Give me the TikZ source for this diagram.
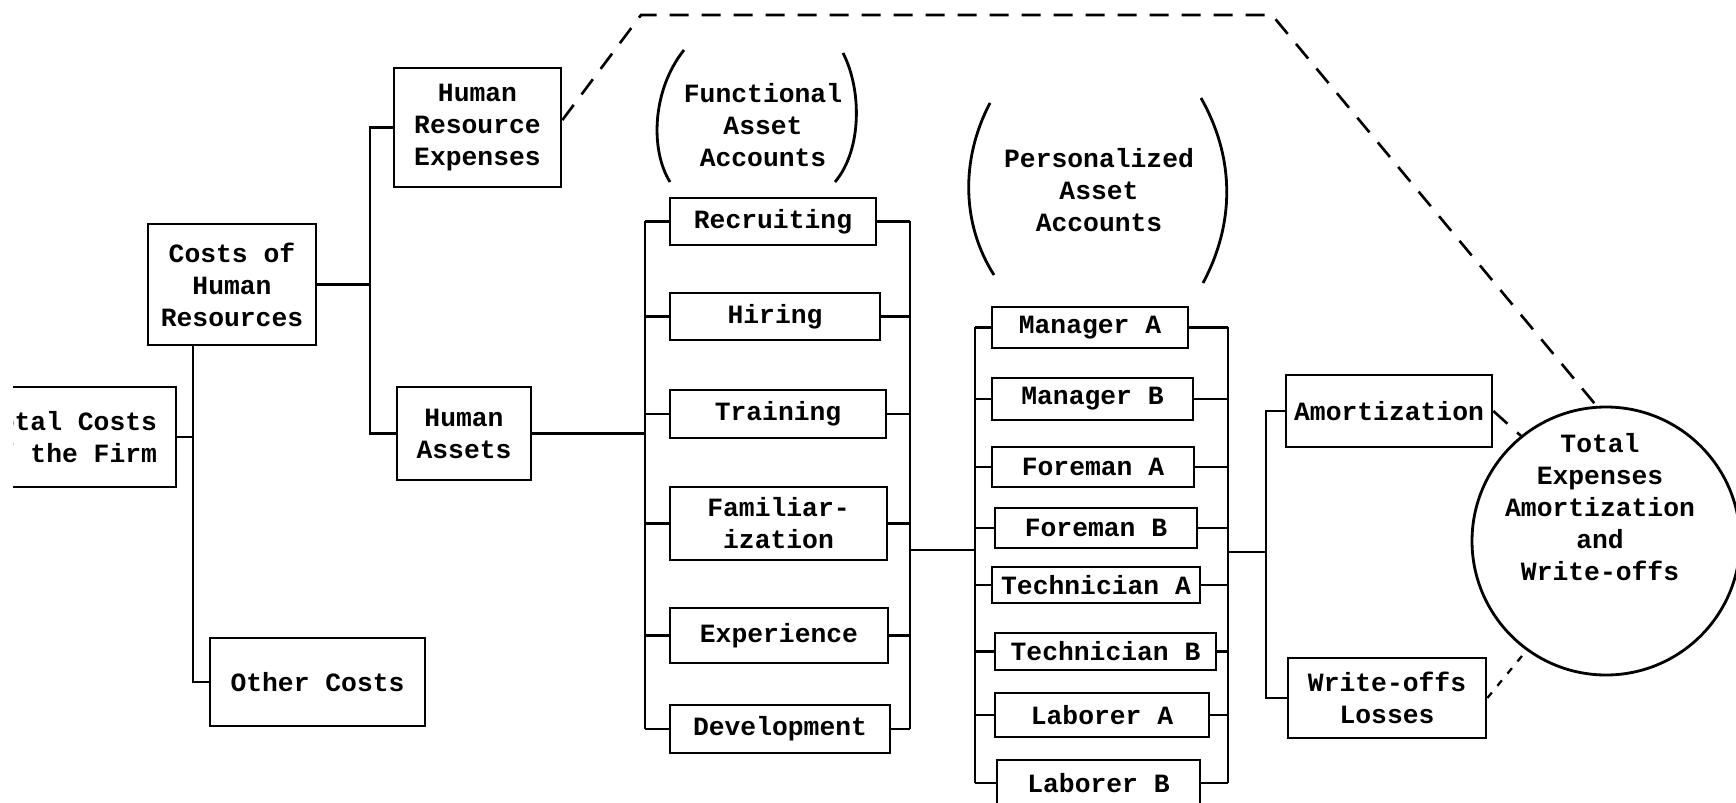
\documentclass[tikz,border=0pt]{standalone}
\usepackage{fontspec}
\setmainfont{Liberation Mono}

\begin{document}
\begin{tikzpicture}[x=0.02cm, y=-0.02cm,
    every node/.style={font=\fontsize{15pt}{18.2pt}\selectfont\bfseries, inner sep=0pt, align=center},
    acct/.style 2 args={draw, line width=1.5pt, minimum width=#1*0.02cm, minimum height=#2*0.02cm},
    link/.style={line width=1.2pt},
    paren/.style={line width=1.6pt},
    flowline/.style={line width=1.5pt, dash pattern=on 0.38cm off 0.26cm},
    lossline/.style={line width=1.3pt, dash pattern=on 4pt off 5pt}]
    \useasboundingbox (0,0) rectangle (1736,803);
    \clip (13,0) rectangle (1736,803);

    \node[acct={212}{100}] (total) at (70,437) {Total Costs\\of the Firm};
    \node[acct={168}{121}] (costs) at (232,284.5) {Costs of\\Human\\Resources};
    \node[acct={167}{119}] (hrexp) at (477.5,127.5) {Human\\Resource\\Expenses};
    \node[acct={134}{93}] (assets) at (464,433.5) {Human\\Assets};
    \node[acct={215}{88}] (other) at (317.5,682) {Other Costs};

    \node (fhead) at (763,125) {Functional\\Asset\\Accounts};
    \node (phead) at (1099,190) {Personalized\\Asset\\Accounts};

    \foreach [count=\i] \txt/\x/\y/\w/\h in {Recruiting/773/221.5/206/47, Hiring/775/316.5/210/47,
        Training/778/414/216/48, {Familiar-\\ization}/778.5/523.5/217/73,
        Experience/779/635.5/218/55, Development/780/729/220/48} {
      \node[acct={\w}{\h}] (f\i) at (\x,\y) {\txt};
    }
    \foreach [count=\i] \txt/\x/\y/\w/\h in {Manager A/1090/327.5/196/41, Manager B/1092.5/399/201/42,
        Foreman A/1093/467/202/40, Foreman B/1096/528/202/40,
        Technician A/1096/585/208/36, Technician B/1105.5/651.5/221/37,
        Laborer A/1102/715/214/44, Laborer B/1098.5/783/203/46} {
      \node[acct={\w}{\h}] (p\i) at (\x,\y) {\txt};
    }

    \node[acct={206}{72}] (amort) at (1389,411) {Amortization};
    \node[acct={198}{80}] (wroff) at (1387,698) {Write-offs\\Losses};
    \node[draw, circle, line width=1.6pt, minimum size=268*0.02cm] (tot) at (1606,541) {};
    \node (tottext) at (1600,507) {Total\\Expenses\\Amortization\\and\\Write-offs};

    \coordinate (cbar) at (193,0);
    \coordinate (hbar) at (370,279);
    \coordinate (fbarl) at (645,0);
    \coordinate (fbarr) at (910,550);
    \coordinate (pbarl) at (975,550);
    \coordinate (pbarr) at (1228,552);
    \coordinate (abar) at (1266,552);
    \coordinate (d1) at (641,15);
    \coordinate (d2) at (1272,15);

    \draw[link] (total.east) -- (total.east -| cbar);
    \draw[link] (costs.south -| cbar) |- (other.west);
    \draw[link] (costs.east) -- (costs.east -| hbar);
    \draw[link] (hrexp.west) -| (hbar) |- (assets.west);
    \draw[link] (assets.east) -- (assets.east -| fbarl);

    \draw[link] (f1.west -| fbarl) -- (f6.west -| fbarl);
    \draw[link] (f1.west) -- (f1.west -| fbarl);
    \draw[link] (f2.west) -- (f2.west -| fbarl);
    \draw[link] (f3.west) -- (f3.west -| fbarl);
    \draw[link] (f4.west) -- (f4.west -| fbarl);
    \draw[link] (f5.west) -- (f5.west -| fbarl);
    \draw[link] (f6.west) -- (f6.west -| fbarl);
    \draw[link] (f1.east) -- (f1.east -| fbarr);
    \draw[link] (f2.east) -- (f2.east -| fbarr);
    \draw[link] (f3.east) -- (f3.east -| fbarr);
    \draw[link] (f4.east) -- (f4.east -| fbarr);
    \draw[link] (f5.east) -- (f5.east -| fbarr);
    \draw[link] (f6.east) -- (f6.east -| fbarr);
    \draw[link] (f1.east -| fbarr) -- (f6.east -| fbarr);

    \draw[link] (fbarr) -- (pbarl);

    \draw[link] (p1.west -| pbarl) -- (p8.west -| pbarl);
    \draw[link] (p1.west) -- (p1.west -| pbarl);
    \draw[link] (p2.west) -- (p2.west -| pbarl);
    \draw[link] (p3.west) -- (p3.west -| pbarl);
    \draw[link] (p4.west) -- (p4.west -| pbarl);
    \draw[link] (p5.west) -- (p5.west -| pbarl);
    \draw[link] (p6.west) -- (p6.west -| pbarl);
    \draw[link] (p7.west) -- (p7.west -| pbarl);
    \draw[link] (p8.west) -- (p8.west -| pbarl);
    \draw[link] (p1.east) -- (p1.east -| pbarr);
    \draw[link] (p2.east) -- (p2.east -| pbarr);
    \draw[link] (p3.east) -- (p3.east -| pbarr);
    \draw[link] (p4.east) -- (p4.east -| pbarr);
    \draw[link] (p5.east) -- (p5.east -| pbarr);
    \draw[link] (p6.east) -- (p6.east -| pbarr);
    \draw[link] (p7.east) -- (p7.east -| pbarr);
    \draw[link] (p8.east) -- (p8.east -| pbarr);
    \draw[link] (p1.east -| pbarr) -- (p8.east -| pbarr);

    \draw[link] (pbarr) -- (abar);
    \draw[link] (amort.west) -| (abar) |- (wroff.west);

    \draw[flowline] (hrexp.5) -- (d1) -- (d2) -- (tot.94);
    \draw[flowline] (amort.east) -- (tot.129);
    \draw[lossline] (wroff.east) -- (tot.234);

    \draw[paren] (684,50) .. controls (652,90) and (650,150) .. (670,182);
    \draw[paren] (843,53) .. controls (862,90) and (862,150) .. (835,182);
    \draw[paren] (990,103) .. controls (960,160) and (962,225) .. (994,275);
    \draw[paren] (1201,98) .. controls (1236,160) and (1234,225) .. (1203,283);
\end{tikzpicture}
\end{document}
